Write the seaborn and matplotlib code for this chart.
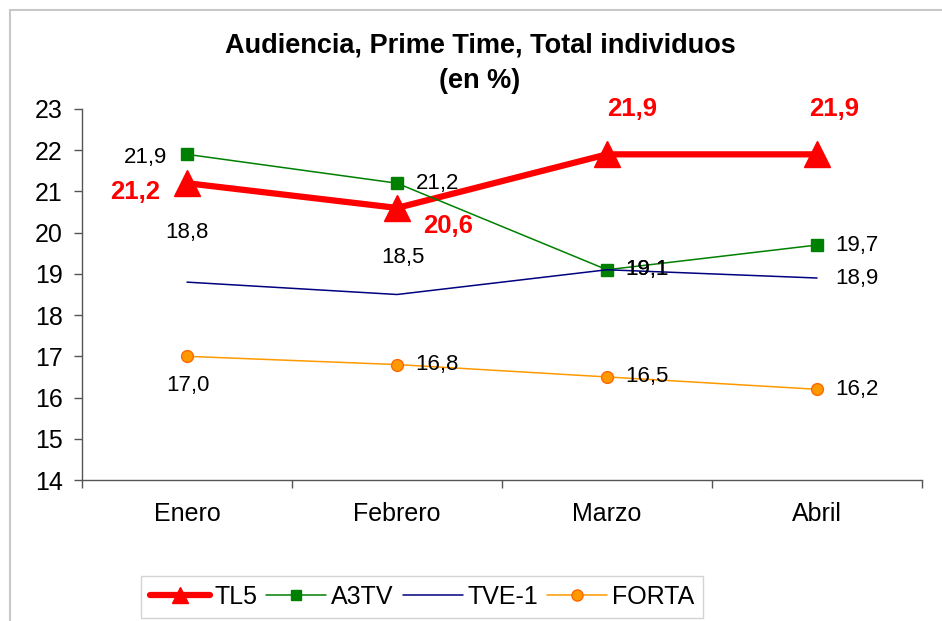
"""
Audiencia Prime Time - recreación del gráfico de líneas
"""
import matplotlib
matplotlib.use('Agg')
import matplotlib.pyplot as plt
from matplotlib.lines import Line2D
from matplotlib.patches import Rectangle
import seaborn as sns
import numpy as np

sns.set_style("white")
plt.rcParams['font.family'] = ['Liberation Sans', 'DejaVu Sans']
plt.rcParams['text.color'] = 'black'
plt.rcParams['xtick.color'] = 'black'
plt.rcParams['ytick.color'] = 'black'

# datos
meses = ['Enero', 'Febrero', 'Marzo', 'Abril']
tl5 = [21.2, 20.6, 21.9, 21.9]
a3tv = [21.9, 21.2, 19.1, 19.7]
tve1 = [18.8, 18.5, 19.1, 18.9]
forta = [17.0, 16.8, 16.5, 16.2]
y_ticks = list(range(14, 24))

titulo = 'Audiencia, Prime Time, Total individuos\n(en %)'

# estilos de cada serie (nombre, valores, color, lw, marker, ms, mec, desplazamientos de etiquetas)
series = [
    ('TL5', tl5, '#FF0000', 4.5, '^', 18.5, '#FF0000',
     [(-37, -6), (37, -13), (18, 33), (12, 33)]),
    ('A3TV', a3tv, '#008000', 1.1, 's', 8.5, '#008000',
     [(-30, -2), (29, 0), (29, 0), (29, 0)]),
    ('TVE-1', tve1, '#000080', 1.1, None, 0, '#000080',
     [(0, 36), (4, 27), (29, 0), (29, 0)]),
    ('FORTA', forta, '#FF9900', 1.1, 'o', 8.5, '#FF6600',
     [(1, -21), (29, 0), (29, 0), (29, 0)]),
]

fig = plt.figure(figsize=(9.42, 6.21), dpi=100)
ax = fig.add_axes([82 / 942, 141 / 621, 840 / 942, 371 / 621])

x = np.arange(len(meses))
for nombre, vals, color, lw, mk, ms, mec, offs in series:
    kws = dict(color=color, linewidth=lw, ax=ax, sort=False, legend=False)
    if mk:
        kws.update(marker=mk, markersize=ms, markeredgecolor=mec,
                   markerfacecolor=color, markeredgewidth=1)
    sns.lineplot(x=x, y=vals, **kws)
    es_tl5 = nombre == 'TL5'
    for xi, v, (dx, dy) in zip(x, vals, offs):
        ax.annotate(f'{v:.1f}'.replace('.', ','), (xi, v), xytext=(dx, dy),
                    textcoords='offset points', ha='center', va='center',
                    fontsize=18.5 if es_tl5 else 16,
                    fontweight='bold' if es_tl5 else 'normal',
                    color='#FF0000' if es_tl5 else 'black', zorder=5)

ax.set_xlim(-0.5, len(meses) - 0.5)
ax.set_ylim(14, 23)
ax.set_yticks(y_ticks)
ax.set_xticks(np.arange(-0.5, len(meses)), labels=[])
ax.set_xticks(x, labels=meses, minor=True)
ax.tick_params(axis='x', which='major', direction='out', length=6, width=1,
               color='#555555', bottom=True)
ax.tick_params(axis='x', which='minor', length=0, pad=16, labelsize=18)
ax.tick_params(axis='y', direction='out', length=6, width=1, color='#555555',
               pad=8, labelsize=18, left=True)
for s in ['top', 'right']:
    ax.spines[s].set_visible(False)
for s in ['left', 'bottom']:
    ax.spines[s].set_color('#555555')
    ax.spines[s].set_linewidth(1)
ax.grid(False)
ax.set_xlabel('')
ax.set_ylabel('')

fig.text(480 / 942, 1 - 63 / 621, titulo, ha='center', va='center',
         fontsize=19.5, fontweight='bold', linespacing=1.45)

# leyenda
handles = [
    Line2D([], [], color='#FF0000', lw=4.5, marker='^', ms=12, mec='#FF0000'),
    Line2D([], [], color='#008000', lw=1.1, marker='s', ms=7, mec='#008000'),
    Line2D([], [], color='#000080', lw=1.1),
    Line2D([], [], color='#FF9900', lw=1.1, marker='o', ms=8, mfc='#FF9900', mec='#FF6600'),
]
leg = fig.legend(handles, [s[0] for s in series], loc='center',
                 bbox_to_anchor=(422 / 942, 1 - 597 / 621), ncol=4,
                 fontsize=18, frameon=True, fancybox=False, handlelength=2.4,
                 handletextpad=0.2, columnspacing=0.35, borderpad=0.35,
                 numpoints=1)
leg.get_frame().set_edgecolor('#c8c8c8')
leg.get_frame().set_linewidth(1)

# borde exterior del gráfico
fig.patches.append(Rectangle((10 / 942, -0.1), 1.2, 0.1 + 611 / 621, fill=False,
                             edgecolor='#c8c8c8', linewidth=1.5,
                             transform=fig.transFigure, figure=fig))

fig.savefig('out.png', dpi=100)
plt.close(fig)
